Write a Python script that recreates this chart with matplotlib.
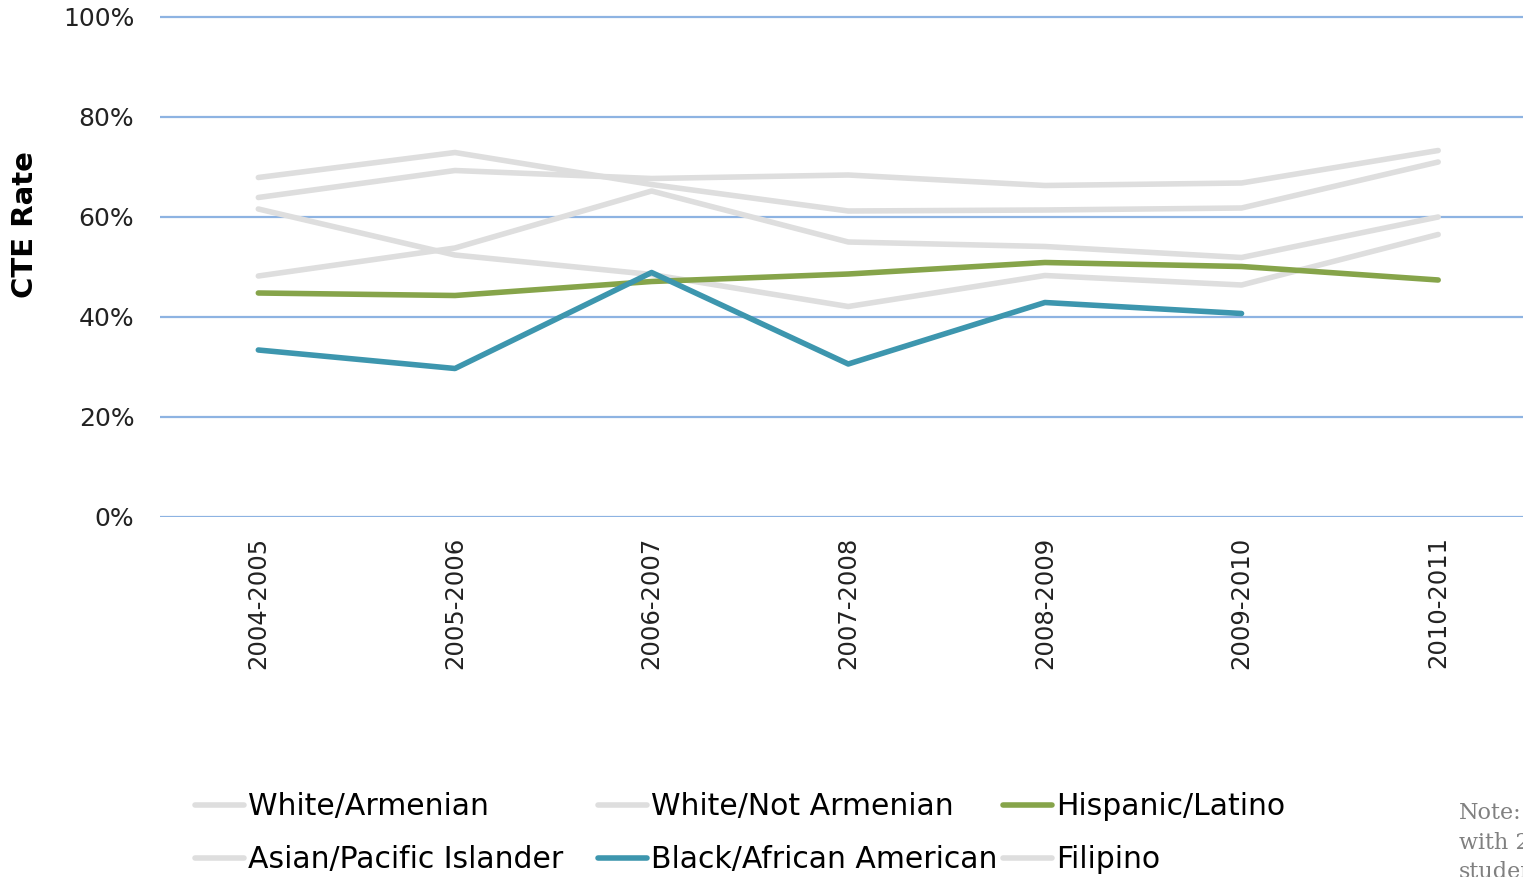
import matplotlib
matplotlib.use("Agg")
import matplotlib.pyplot as plt
import numpy as np

plt.rcParams["font.family"] = ["DejaVu Sans"]

years = ["2004-2005", "2005-2006", "2006-2007", "2007-2008",
         "2008-2009", "2009-2010", "2010-2011"]

white_armenian = [67.9, 72.9, 66.5, 61.2, 61.4, 61.8, 71.0]
white_not_armenian = [63.9, 69.3, 67.7, 68.4, 66.3, 66.8, 73.3]
hispanic_latino = [44.8, 44.3, 47.1, 48.6, 50.9, 50.1, 47.4]
asian_pacific = [48.2, 53.8, 65.2, 55.0, 54.1, 51.9, 60.0]
black_african = [33.4, 29.7, 48.9, 30.6, 42.9, 40.7, np.nan]
filipino = [61.6, 52.4, 48.5, 42.1, 48.3, 46.4, 56.5]

gray = "#dedede"
green = "#86a44a"
blue = "#3d96ae"

fig = plt.figure(figsize=(15.23, 8.77), dpi=100)
W, H = 1523, 877
# axes from 0% (y=517) up to 102% so the top grid line is not clipped
ax = fig.add_axes([160 / W, (H - 517) / H, (W - 160) / W, 510 / H])

x = np.arange(len(years))
lw = 4.0
ax.plot(x, white_armenian, color=gray, lw=lw, solid_capstyle="round", label="White/Armenian")
ax.plot(x, white_not_armenian, color=gray, lw=lw, solid_capstyle="round", label="White/Not Armenian")
ax.plot(x, asian_pacific, color=gray, lw=lw, solid_capstyle="round", label="Asian/Pacific Islander")
ax.plot(x, filipino, color=gray, lw=lw, solid_capstyle="round", label="Filipino")
ax.plot(x, hispanic_latino, color=green, lw=lw, solid_capstyle="round", label="Hispanic/Latino")
ax.plot(x, black_african, color=blue, lw=lw, solid_capstyle="round", label="Black/African American")

ax.set_ylim(0, 102)
ax.set_xlim(-0.5, (W - 161) / 196.5 - 0.5)
ax.set_yticks(range(0, 101, 20))
ax.set_yticklabels([f"{v}%" for v in range(0, 101, 20)], fontsize=18, color="#222222")
ax.set_xticks(x)
ax.set_xticklabels(years, rotation=90, fontsize=17.5, color="#222222")
ax.tick_params(axis="y", length=0, pad=18.5)
ax.tick_params(axis="x", length=0, pad=14)
for s in ax.spines.values():
    s.set_visible(False)
ax.yaxis.grid(True, color="#8db3e2", lw=1.6)
ax.set_axisbelow(True)

fig.text(25 / W, 1 - 225 / H, "CTE Rate", rotation=90, fontsize=21,
         fontweight="bold", ha="center", va="center")

# legend, one block per column
handles = {l.get_label(): l for l in ax.get_lines()}
columns = [
    (195, ["White/Armenian", "Asian/Pacific Islander"]),
    (598, ["White/Not Armenian", "Black/African American"]),
    (1003, ["Hispanic/Latino", "Filipino"]),
]
for left, names in columns:
    fig.legend([handles[n] for n in names], names, loc="upper left",
               bbox_to_anchor=(left / W, 1 - 792 / H), frameon=False,
               fontsize=21.5, handlelength=1.65, handletextpad=0.13,
               borderpad=0, borderaxespad=0, labelspacing=0.82)

fig.text(1459 / W, 1 - 802 / H, "Note:\nwith 2\nstudents", fontsize=16,
         family="DejaVu Serif", color="#808080", ha="left", va="top",
         linespacing=1.45)

fig.savefig("out.png", dpi=100)
